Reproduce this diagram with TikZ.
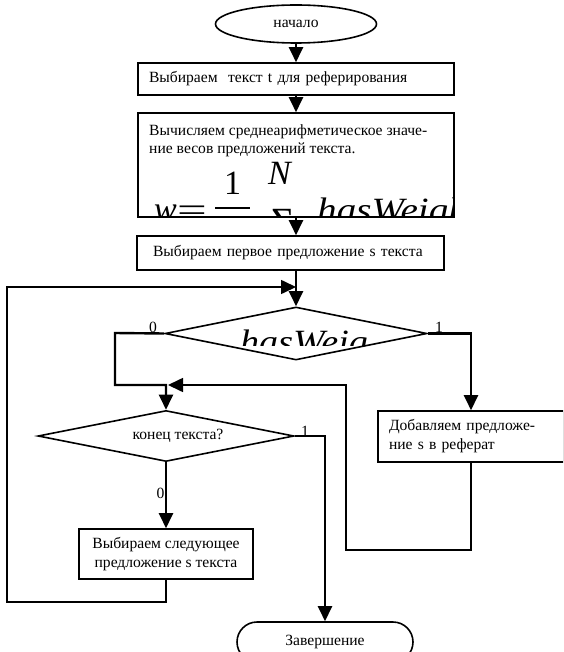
\documentclass[tikz,border=0pt]{standalone}
\usepackage{fontspec}
\setmainfont{Liberation Serif}
\usetikzlibrary{arrows.meta,shapes.geometric,shapes.misc}
\begin{document}
\begin{tikzpicture}[x=1pt,y=-1pt,
  every node/.style={font=\fontsize{15.6}{19}\selectfont},
  box/.style={draw,rectangle,line width=1.6pt,inner ysep=0pt},
  term/.style={draw,line width=1.6pt,inner sep=0pt},
  dec/.style={draw,diamond,line width=1.6pt,inner sep=0pt},
  conn/.style={line width=2.4pt,-{Triangle[width=14pt,length=15pt]}},
  thina/.style={line width=1.6pt,-{Triangle[width=14pt,length=15pt]}},
  lbl/.style={inner sep=0.5pt},
  mathtxt/.style={inner sep=0pt,font=\fontsize{34}{34}\selectfont\itshape},
  mathup/.style={inner sep=0pt,font=\fontsize{34}{34}\selectfont}
]
\useasboundingbox (0,0) rectangle (563,652);
\clip (0,0) rectangle (563,652);

% blocks
\node[term,ellipse,minimum width=161pt,minimum height=38pt] (start) at (296,24) {начало};
\node[box,minimum width=316pt,minimum height=32pt,inner xsep=11pt,text width=294pt,align=left] (b1) at (296,79) {Выбираем~ текст t для реферирования};
\node[box,minimum width=316pt,minimum height=104pt] (b2) at (296,165) {};
\node[box,minimum width=307pt,minimum height=34pt,inner xsep=16pt,text width=275pt,align=left] (b3) at (290.5,253) {Выбираем первое предложение s текста};
\node[dec,minimum width=262pt,minimum height=53pt] (d1) at (296,333.5) {};
\node[dec,minimum width=256pt,minimum height=51pt] (d2) at (166,436) {};
\node[box,minimum width=186pt,minimum height=51pt,inner xsep=11pt,text width=164pt,align=left] (b4) at (471,436.5) {Добавляем предложе-\\ние s в реферат};
\node[box,minimum width=174pt,minimum height=50pt,inner xsep=4pt,align=center] (b5) at (166,554) {Выбираем следующее\\предложение s текста};
\node[term,rounded rectangle,minimum width=176pt,minimum height=40pt] (end) at (325,642) {Завершение};

% texts of b2
\node[inner sep=0pt,anchor=base west] (b2t1) at (149,136) {Вычисляем среднеарифметическое значе-};
\node[inner sep=0pt,anchor=base west] (b2t2) at (149,154) {ние весов предложений текста.};
\begin{scope}
  \clip (139,114) rectangle (452,215.5);
  \node[mathtxt,anchor=base west] (fw) at (154,220) {w};
  \node[mathup,anchor=base west] (feq) at (177,221) {\scalebox{1.55}[1]{=}};
  \node[mathup,anchor=base west] (fone) at (224,195) {1};
  \draw[line width=1.5pt] (215,208) -- (250,208);
  \node[mathtxt,anchor=base west] (fN) at (268,185) {N};
  \node[mathup,anchor=base west,font=\fontsize{40}{40}\selectfont] (fsum) at (271,235) {Σ};
  \node[mathtxt,anchor=base west] (fhw) at (317,221) {\scalebox{1.15}[1]{hasWeight}};
\end{scope}

% text in d1 (clipped)
\begin{scope}
  \clip (230,326) rectangle (368,345);
  \node[mathtxt,anchor=base west] (d1t) at (240,353) {\scalebox{1.12}[1]{hasWeight}};
\end{scope}
% text in d2
\node[inner sep=0pt] (d2t) at (178,436) {конец текста?};

% coordinates
\coordinate (j0) at (296,287);
\coordinate (lp1) at (7,602);
\coordinate (lp2) at (7,287);
\coordinate (lb1) at (115,333);
\coordinate (lb2) at (115,385);
\coordinate (j1) at (166,385);
\coordinate (j1t) at (168,385);
\coordinate (rb1) at (471,550);
\coordinate (rb2) at (346,550);
\coordinate (rb3) at (346,385);

% connectors
\draw[conn] (start.south) -- (b1.north -| start.south);
\draw[conn] (b1.south) -- (b2.north);
\draw[conn] (b2.south) -- (b2.south |- b3.north);
\draw[conn] (b2.south |- b3.south) -- (d1.north);
\draw[thina] (b5.south) |- (lp1) -- (lp2) -- (j0);
\draw[conn] (d1.west) -- (lb1) -- (lb2) -- (j1) -- (d2.north);
\draw[conn] (d1.east) -| (b4.north);
\draw[thina] (b4.south) -- (rb1) -- (rb2) -- (rb3) -- (j1t);
\draw[conn] (d2.south) -- (b5.north);
\draw[conn] (d2.east) -| (end.north);

% labels
\node[lbl,anchor=south] (l0a) at (153,333) {0};
\node[lbl,anchor=south] (l1a) at (439,333) {1};
\node[lbl,anchor=south] (l1b) at (305,437) {1};
\node[lbl,anchor=east] (l0b) at (165,493) {0};
\end{tikzpicture}
\end{document}
